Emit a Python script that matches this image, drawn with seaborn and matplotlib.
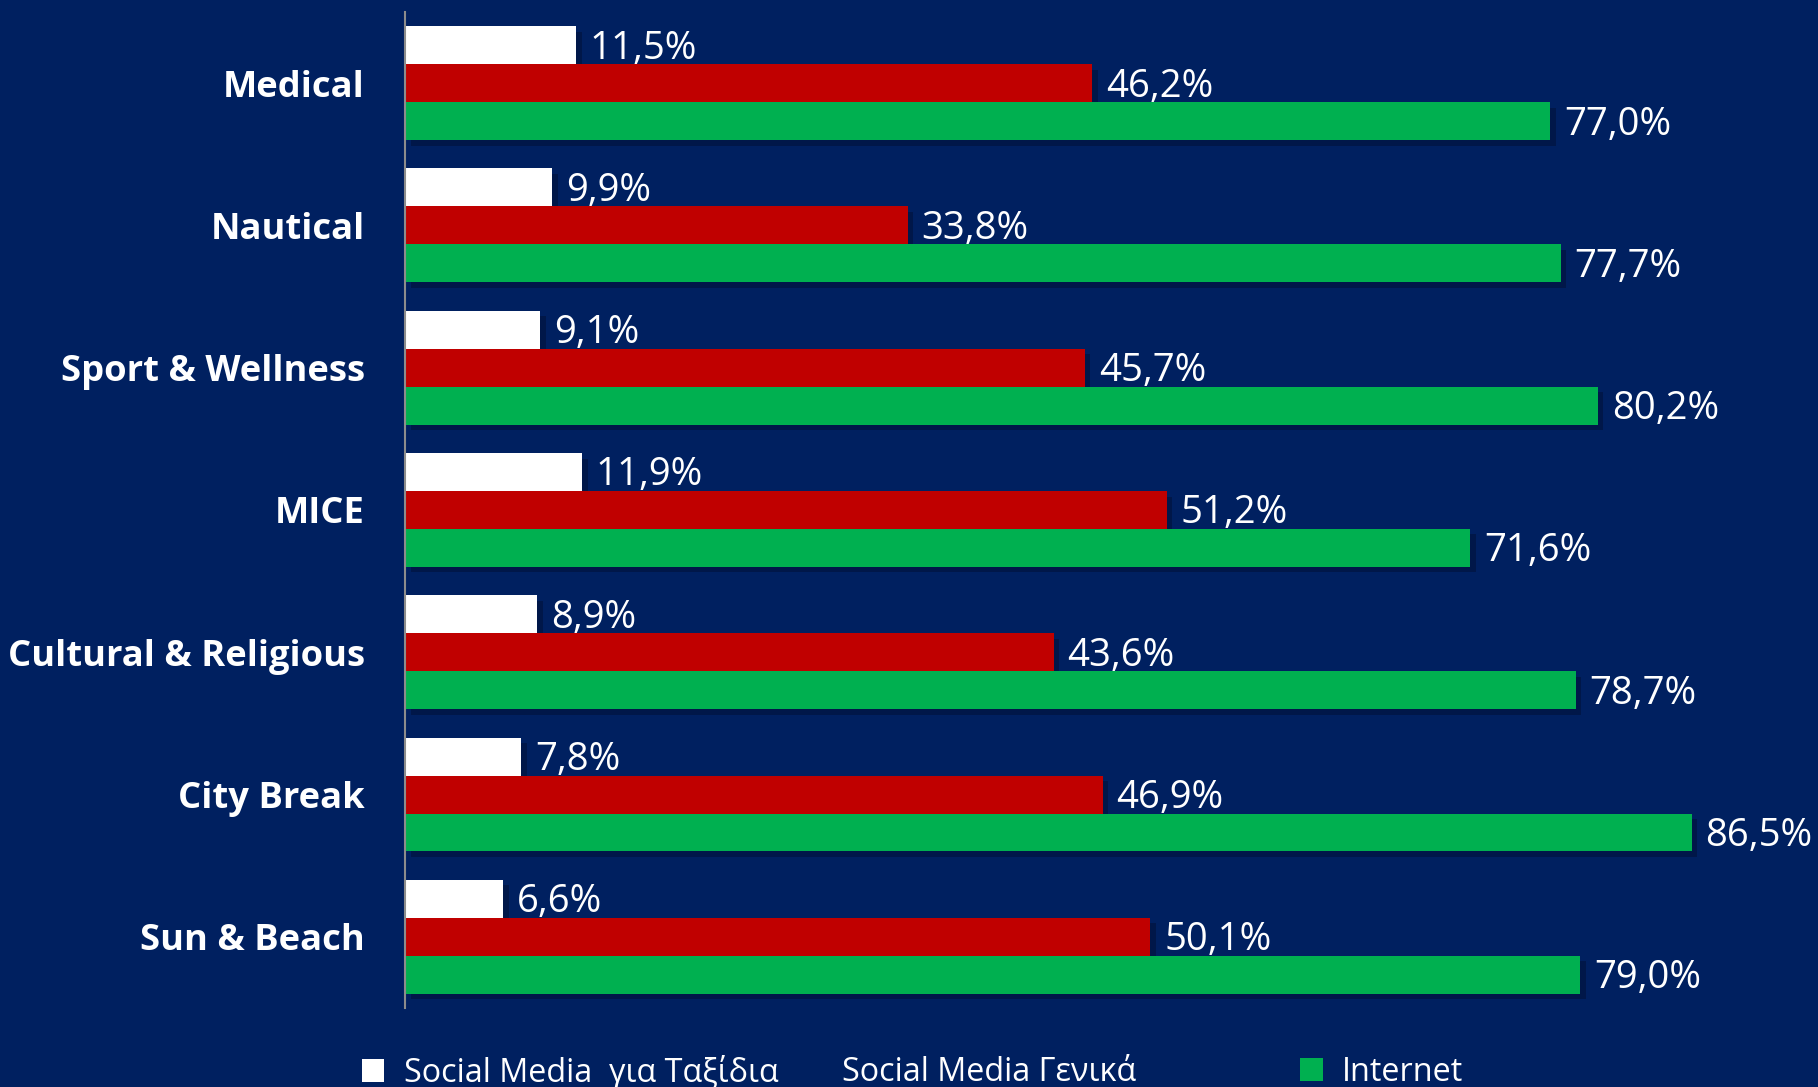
import matplotlib
matplotlib.use("Agg")
import matplotlib.pyplot as plt
import matplotlib.patheffects as pe
from matplotlib.patches import Patch
import seaborn as sns
import pandas as pd

categories = ["Medical", "Nautical", "Sport & Wellness", "MICE",
              "Cultural & Religious", "City Break", "Sun & Beach"]
series_names = ["Social Media  για Ταξίδια", "Social Media Γενικά", "Internet"]
social_travel = [11.5, 9.9, 9.1, 11.9, 8.9, 7.8, 6.6]
social_general = [46.2, 33.8, 45.7, 51.2, 43.6, 46.9, 50.1]
internet = [77.0, 77.7, 80.2, 71.6, 78.7, 86.5, 79.0]

BG = "#002060"
colors = ["#FFFFFF", "#C00000", "#00B050"]

rows = []
for name, vals in zip(series_names, [social_travel, social_general, internet]):
    for c, v in zip(categories, vals):
        rows.append({"category": c, "series": name, "value": v})
df = pd.DataFrame(rows)

sns.set_theme(style="white")
plt.rcParams["font.family"] = ["Lato", "DejaVu Sans"]

fig = plt.figure(figsize=(18.18, 10.87), dpi=100, facecolor=BG)
ax = fig.add_axes([0.2228, 0.0727, 0.7772, 0.9163])
ax.set_facecolor(BG)

sns.barplot(data=df, y="category", x="value", hue="series", orient="h",
            order=categories, hue_order=series_names, palette=colors,
            saturation=1, width=0.8, dodge=True, legend=False, ax=ax,
            edgecolor="none", linewidth=0)

shadow = [pe.SimplePatchShadow(offset=(4, -4), shadow_rgbFace="#000820", alpha=0.35),
          pe.Normal()]
for cont in ax.containers:
    for bar in cont:
        bar.set_path_effects(shadow)
    anns = ax.bar_label(cont, labels=[f"{b.get_width():.1f}%".replace(".", ",") for b in cont],
                        padding=10, color="white", fontsize=27.5,
                        fontfamily=["Open Sans", "DejaVu Sans"])
    for a in anns:
        a.xyann = (10, -2.5)

ax.set_xlim(0, 95)
ax.set_ylim(6.5, -0.5)
ax.set_xlabel("")
ax.set_ylabel("")
ax.set_xticks([])
for s in ["top", "right", "bottom"]:
    ax.spines[s].set_visible(False)
ax.spines["left"].set_color("#8C8C8C")
ax.spines["left"].set_linewidth(1.5)
ax.tick_params(axis="y", length=0, pad=29, colors="white")
for t in ax.get_yticklabels():
    t.set_fontsize(26.2)
    t.set_fontweight("bold")
    t.set_color("white")
    t.set_fontfamily(["Open Sans", "DejaVu Sans"])

# legend, three entries at their own positions
leg_pos = [0.199, 0.440, 0.715]
leg_colors = ["#FFFFFF", BG, "#00B050"]
for name, col, xpos in zip(series_names, leg_colors, leg_pos):
    h = Patch(facecolor=col, edgecolor="none")
    fig.legend(handles=[h], labels=[name], loc="center left",
               bbox_to_anchor=(xpos, 0.0135), frameon=False,
               labelcolor="white", handlelength=0.7, handleheight=0.7,
               handletextpad=0.6, borderpad=0, borderaxespad=0,
               prop={"family": ["Open Sans", "DejaVu Sans"], "size": 23.3})

fig.savefig("out.png", dpi=100, facecolor=BG)
